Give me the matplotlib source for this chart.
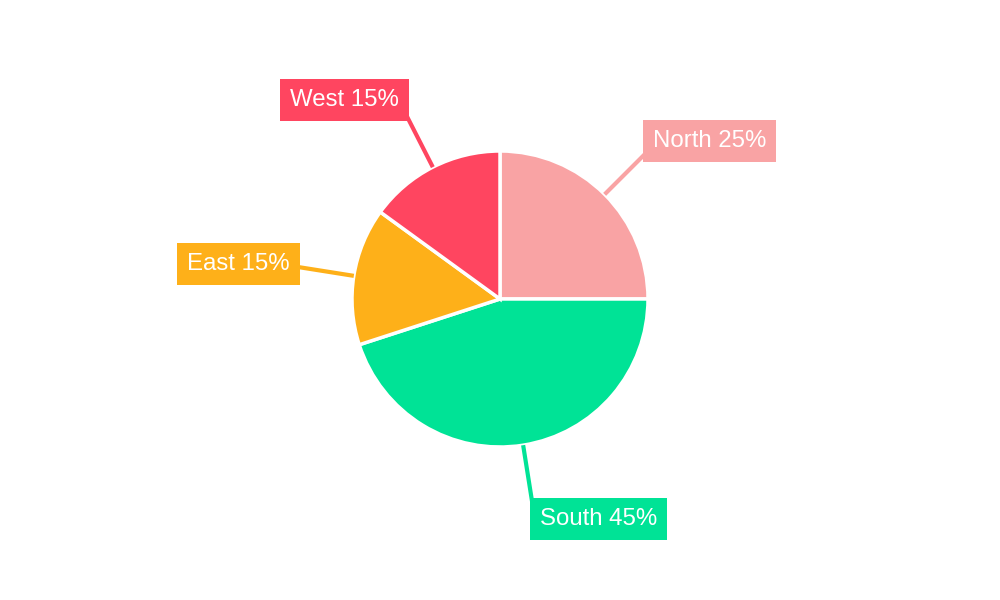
import numpy as np
import matplotlib.pyplot as plt

# Region shares (percent)
regions = ['North', 'South', 'East', 'West']
shares = [25, 45, 15, 15]
colors = ['#F9A3A4', '#00E396', '#FEB019', '#FF4560']

plt.rcParams['font.family'] = ['Liberation Sans', 'DejaVu Sans']

fig = plt.figure(figsize=(10, 6), dpi=100)
ax = fig.add_axes([0, 0, 1, 1])

# pixel-like coordinates, y pointing up
cx, cy, r = 500, 301, 148
wedges, _ = ax.pie(shares, colors=colors, startangle=90, counterclock=False,
                   center=(cx, cy), radius=r, frame=True,
                   wedgeprops=dict(edgecolor='white', linewidth=2.5))
ax.set_xlim(0, 1000)
ax.set_ylim(0, 600)
ax.set_aspect('equal')
ax.axis('off')

for w, name, val, col in zip(wedges, regions, shares, colors):
    ang = np.deg2rad((w.theta1 + w.theta2) / 2)
    ca, sa = np.cos(ang), np.sin(ang)
    x0, y0 = cx + r * ca, cy + r * sa
    x1, y1 = cx + 205 * ca, cy + 205 * sa
    ax.plot([x0, x1], [y0, y1], color=col, lw=3, solid_capstyle='butt', zorder=1)
    ha = 'left' if ca > 0 else 'right'
    pad = 8
    tx = x1 + pad if ca > 0 else x1 - pad
    ty = y1 + 18 * sa
    ax.text(tx, ty, f'{name} {val}%', ha=ha, va='center', fontsize=17.3,
            color='white', zorder=3,
            bbox=dict(boxstyle='square,pad=0.42', fc=col, ec='none'))

fig.savefig('out.png', dpi=100)
